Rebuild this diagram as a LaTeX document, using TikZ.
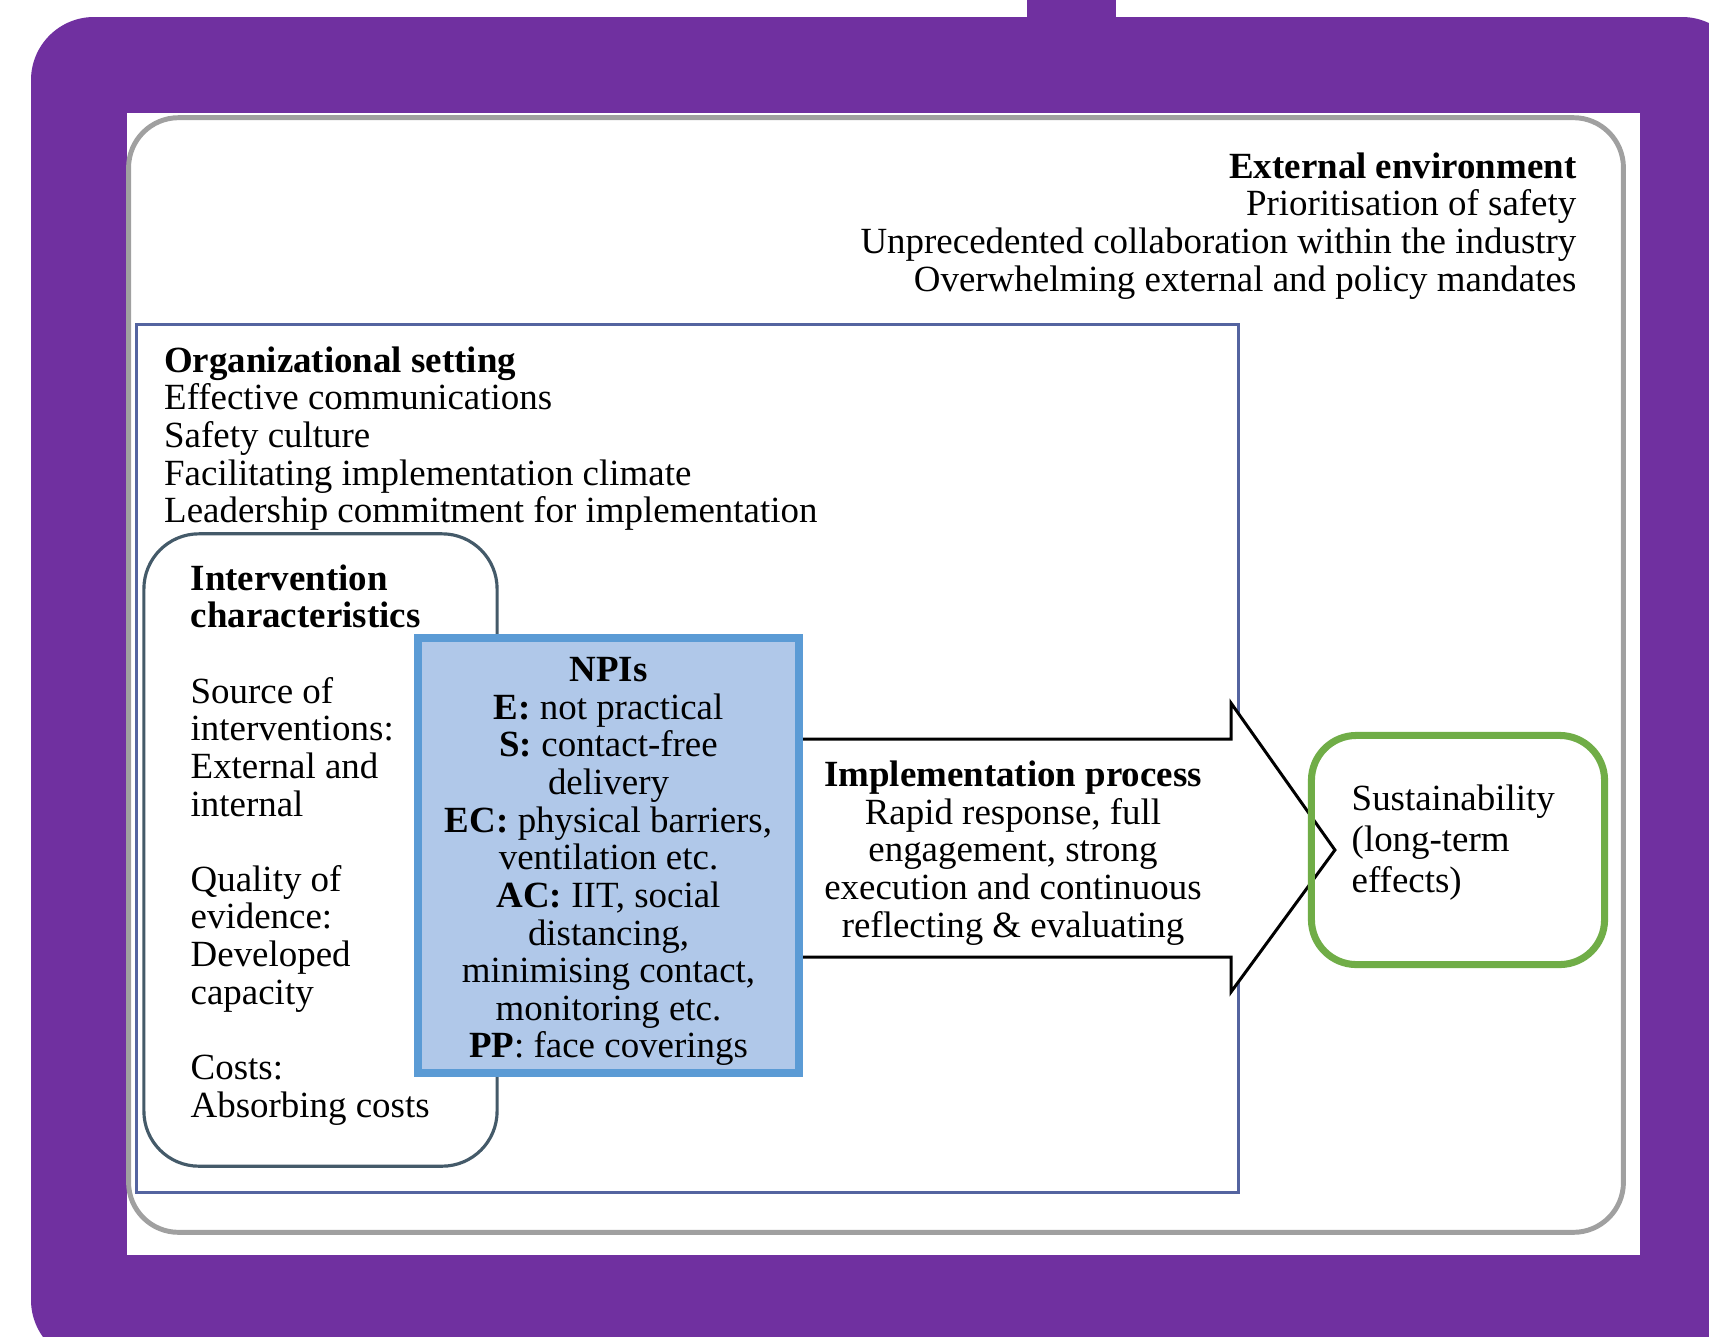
\documentclass[tikz,border=0pt]{standalone}
\usepackage{fontspec}
\setmainfont{Liberation Serif}

\definecolor{slidepurple}{RGB}{112,48,160}
\definecolor{envgray}{RGB}{160,160,160}
\definecolor{orgblue}{RGB}{84,100,160}
\definecolor{intslate}{RGB}{68,90,105}
\definecolor{npifill}{RGB}{176,200,233}
\definecolor{npiedge}{RGB}{91,155,213}
\definecolor{sustgreen}{RGB}{112,173,71}

\begin{document}
\begin{tikzpicture}[x=0.01cm, y=-0.01cm,
    boxtext/.style={inner sep=0pt, font=\fontsize{10.5pt}{10.7pt}\selectfont},
    frame/.style={draw, inner sep=0pt, outer sep=0pt}]
                    \clip (0,0) rectangle (1709,1336);
                    \fill[white] (0,0) rectangle (1709,1336);

                    % Slide background
                    \fill[slidepurple, rounded corners=0.63cm] (31,17) rectangle (1745,1363);
                    \fill[slidepurple] (1027,0) rectangle (1116,40);
                    \fill[white] (127,113) rectangle (1640,1255);

                    % Boxes
                    \node[frame, envgray, line width=1.4pt, rounded corners=0.5cm,
                          minimum width=14.94cm, minimum height=11.14cm] (env) at (876,675) {};
                    \node[frame, orgblue, line width=0.9pt,
                          minimum width=11.01cm, minimum height=8.67cm] (org) at (687.5,758.5) {};
                    \node[frame, intslate, line width=0.9pt, rounded corners=0.55cm,
                          minimum width=3.53cm, minimum height=6.32cm] (interv) at (320.5,850) {};

                    % Headers
                    \node[boxtext, anchor=north east, align=right] (envtext) at (1577,152)
                        {\textbf{External environment}\\Prioritisation of safety\\
                         Unprecedented collaboration within the industry\\
                         Overwhelming external and policy mandates};
                    \node[boxtext, anchor=north west, align=left] (orgtext) at (163.5,346)
                        {\textbf{Organizational setting}\\Effective communications\\Safety culture\\
                         Facilitating implementation climate\\Leadership commitment for implementation};
                    \node[boxtext, anchor=north west, align=left] (intervtext) at (190,564)
                        {\textbf{Intervention}\\\textbf{characteristics}\\[10.7pt]
                         Source of\\interventions:\\External and\\internal\\[10.7pt]
                         Quality of\\evidence:\\Developed\\capacity\\[10.7pt]
                         Costs:\\Absorbing costs};

                    % NPIs
                    \node[boxtext, draw=npiedge, fill=npifill, line width=2.3pt, align=center,
                          minimum width=3.81cm, minimum height=4.35cm] (npi) at (608.5,855.5)
                        {\rule{0pt}{10.4pt}\textbf{NPIs}\\\textbf{E:} not practical\\\textbf{S:} contact-free\\delivery\\
                         \textbf{EC:} physical barriers,\\ventilation etc.\\\textbf{AC:} IIT, social\\
                         distancing,\\minimising contact,\\monitoring etc.\\\textbf{PP}: face coverings};

                    \node[inner sep=0pt, outer sep=0pt,
                          minimum width=2.93cm, minimum height=2.29cm] (sust) at (1458,850) {};

                    % Implementation arrow
                    \draw[line width=0.85pt, fill=white]
                        (npi.east |- 0,739) -- (1231,739) -- (1231,703) -- ([xshift=0.235cm]sust.west)
                        -- (1231,992) -- (1231,957) -- (npi.east |- 0,957);
                    \draw[sustgreen, line width=2pt, rounded corners=0.45cm]
                        (sust.north west) rectangle (sust.south east);
                    \node[boxtext, align=center] (impl) at (1013,853)
                        {\textbf{Implementation process}\\Rapid response, full\\engagement, strong\\
                         execution and continuous\\reflecting \& evaluating};
                    \node[boxtext, anchor=north west, align=left] (susttext) at (1351,784)
                        {Sustainability\\[1pt](long-term\\[1pt]effects)};
                \end{tikzpicture}
\end{document}
